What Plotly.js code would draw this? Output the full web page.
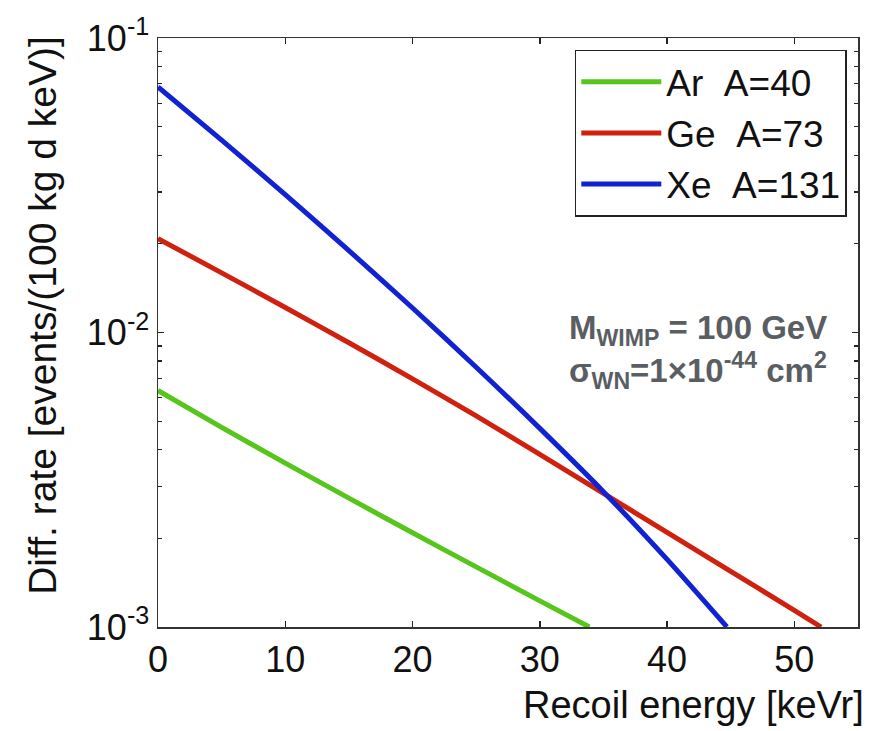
<!DOCTYPE html>
<html>
<head>
<meta charset="utf-8">
<script src="https://cdn.plot.ly/plotly-3.0.1.min.js"></script>
<style>html,body{margin:0;padding:0;background:#fff;}#chart{width:884px;height:731px;}</style>
</head>
<body>
<div id="chart"></div>
<script>
// Recoil energy [keVr]
const arE = [0, 5, 10, 15, 20, 25, 30, 33.9];
const arRate = [0.006353, 0.004764, 0.003601, 0.002739, 0.002089, 0.001600, 0.001227, 0.001000];

const geE = [0, 5, 10, 15, 20, 25, 30, 35, 40, 45, 50, 52.1];
const geRate = [0.02084, 0.01594, 0.01216, 0.009226, 0.006959, 0.005207, 0.003859, 0.002844, 0.002097, 0.001545, 0.001139, 0.001000];

const xeE = [0, 5, 10, 15, 20, 25, 30, 35, 40, 44.7];
const xeRate = [0.06823, 0.04498, 0.02938, 0.01897, 0.01211, 0.007621, 0.004726, 0.002881, 0.001696, 0.001000];

const seriesNames = ['Ar\u00a0\u00a0A=40', 'Ge\u00a0\u00a0A=73', 'Xe\u00a0\u00a0A=131'];
const seriesColors = ['#56c61c', '#d0200e', '#1022d2'];

const xTicks = [0, 10, 20, 30, 40, 50];
const yMajor = [0.001, 0.01, 0.1];
const yMajorText = ['10<sup>-3</sup>', '10<sup>-2</sup>', '10<sup>-1</sup>'];

// minor log ticks at 2..9 of each decade
const yMinor = [];
for (let d = 0; d < yMajor.length - 1; d++) {
  for (let m = 2; m <= 9; m++) yMinor.push(yMajor[d] * m);
}

const font = 'Liberation Sans, Arial, Helvetica, sans-serif';

const traces = [
  {x: arE, y: arRate, name: seriesNames[0], mode: 'lines', line: {color: seriesColors[0], width: 5, shape: 'spline', smoothing: 0.8}},
  {x: geE, y: geRate, name: seriesNames[1], mode: 'lines', line: {color: seriesColors[1], width: 5, shape: 'spline', smoothing: 0.8}},
  {x: xeE, y: xeRate, name: seriesNames[2], mode: 'lines', line: {color: seriesColors[2], width: 5, shape: 'spline', smoothing: 0.8}}
];

const layout = {
  width: 884, height: 731,
  margin: {l: 158, r: 26, t: 38, b: 104},
  paper_bgcolor: '#ffffff', plot_bgcolor: '#ffffff',
  font: {family: font, size: 36, color: '#111'},
  showlegend: true,
  legend: {
    x: 0.984, y: 0.98, xanchor: 'right', yanchor: 'top',
    bordercolor: '#222', borderwidth: 1.5, bgcolor: '#fff',
    font: {family: font, size: 37, color: '#111'},
    itemwidth: 80, tracegroupgap: 0
  },
  xaxis: {
    range: [0, 55], tickvals: xTicks, ticktext: xTicks.map(String),
    ticks: 'inside', ticklen: 6, tickwidth: 1.5, tickcolor: '#222',
    showline: true, linecolor: '#333', linewidth: 1.5, mirror: 'ticks',
    showgrid: false, zeroline: false,
    tickfont: {family: font, size: 36, color: '#111'}
  },
  yaxis: {
    type: 'log', range: [-3, -1],
    tickvals: yMajor, ticktext: yMajorText,
    ticks: 'inside', ticklen: 6, tickwidth: 1.5, tickcolor: '#222',
    minor: {tickvals: yMinor, ticks: 'inside', ticklen: 4, tickwidth: 1.2, tickcolor: '#222', showgrid: false},
    showline: true, linecolor: '#333', linewidth: 1.5, mirror: 'ticks',
    showgrid: false, zeroline: false,
    tickfont: {family: font, size: 36, color: '#111'}
  },
  annotations: [
    {xref: 'paper', yref: 'paper', x: 1.012, y: -0.132, xanchor: 'right', yanchor: 'middle',
     text: 'Recoil energy [keVr]', showarrow: false, font: {family: font, size: 38, color: '#111'}},
    {xref: 'paper', yref: 'paper', x: -0.1643, y: 0.53, xanchor: 'center', yanchor: 'middle', textangle: -90,
     text: 'Diff. rate [events/(100 kg d keV)]', showarrow: false, font: {family: font, size: 39, color: '#111'}},
    {xref: 'paper', yref: 'paper', x: 0.584, y: 0.467, xanchor: 'left', yanchor: 'middle', align: 'left',
     text: '<b>M<sub>WIMP</sub> = 100 GeV</b><br><b>σ<sub>WN</sub>=1×10<sup>-44</sup> cm<sup>2</sup></b>',
     showarrow: false, font: {family: font, size: 33, color: '#5a5e62'}}
  ]
};

Plotly.newPlot('chart', traces, layout, {displayModeBar: false, staticPlot: true});
</script>
</body>
</html>
